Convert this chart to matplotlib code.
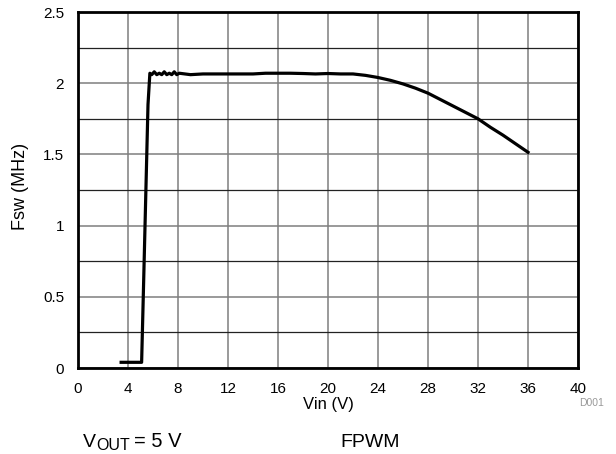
import numpy as np
import matplotlib.pyplot as plt

# -------------------------------
# data
# -------------------------------
vin = [3.45, 5.09, 5.25, 5.6, 5.75, 5.9, 6.1, 6.3, 6.5, 6.7, 6.9, 7.1, 7.3, 7.5,
       7.7, 7.9, 8.1, 9, 10, 11, 12, 13, 14, 15, 16, 17, 18, 19, 20, 21, 22, 23,
       24, 25, 26, 27, 28, 29, 30, 31, 32, 33, 34, 35, 36]
fsw = [0.04, 0.04, 0.6, 1.85, 2.07, 2.06, 2.08, 2.06, 2.07, 2.06, 2.08, 2.06,
       2.07, 2.06, 2.08, 2.06, 2.07, 2.06, 2.065, 2.065, 2.065, 2.065, 2.065,
       2.07, 2.07, 2.07, 2.068, 2.065, 2.068, 2.065, 2.065, 2.055, 2.04, 2.02,
       1.995, 1.965, 1.93, 1.885, 1.84, 1.795, 1.75, 1.69, 1.635, 1.575, 1.515]

xticks = np.arange(0, 41, 4)
yticks = [0, 0.5, 1, 1.5, 2, 2.5]
yticklabels = ["0", "0.5", "1", "1.5", "2", "2.5"]

plt.rcParams['font.family'] = ['Liberation Sans', 'DejaVu Sans']

W, H = 616, 454
fig = plt.figure(figsize=(W / 100, H / 100), dpi=100)
ax = fig.add_axes([78 / W, 1 - 368 / H, 500 / W, 356 / H])

ax.plot(vin, fsw, color="black", lw=2.3, solid_joinstyle="round", zorder=3)

ax.set_xlim(0, 40)
ax.set_ylim(0, 2.5)
ax.set_xticks(xticks)
ax.set_yticks(yticks)
ax.set_yticklabels(yticklabels)
ax.set_yticks(np.arange(0.25, 2.5, 0.5), minor=True)

ax.grid(True, which="major", color="#7f7f7f", lw=1.1)
ax.grid(True, which="minor", axis="y", color="#222222", lw=0.9)
ax.tick_params(which="both", length=0, labelsize=11)
ax.tick_params(axis="x", pad=10)
ax.tick_params(axis="y", pad=10)

for s in ax.spines.values():
    s.set_linewidth(2)

ax.set_xlabel("Vin (V)", fontsize=12)
ax.xaxis.set_label_coords(0.5, -0.081)
ax.set_ylabel("Fsw (MHz)", fontsize=13)
ax.yaxis.set_label_coords(-0.098, 0.511)

fig.text(604 / W, 1 - 403 / H, "D001", fontsize=7.5, color="#999999",
         ha="right", va="center")

# VOUT = 5 V note, subscript drawn as its own piece
fig.text(83 / W, 1 - 447 / H, "V", fontsize=14, va="baseline")
fig.text(96 / W, 1 - 450.5 / H, "OUT", fontsize=11.5, va="baseline")
fig.text(134 / W, 1 - 447 / H, "= 5 V", fontsize=14.5, va="baseline")
fig.text(340 / W, 1 - 447 / H, "FPWM", fontsize=14, ha="left", va="baseline")

fig.savefig("out.png", dpi=100)
